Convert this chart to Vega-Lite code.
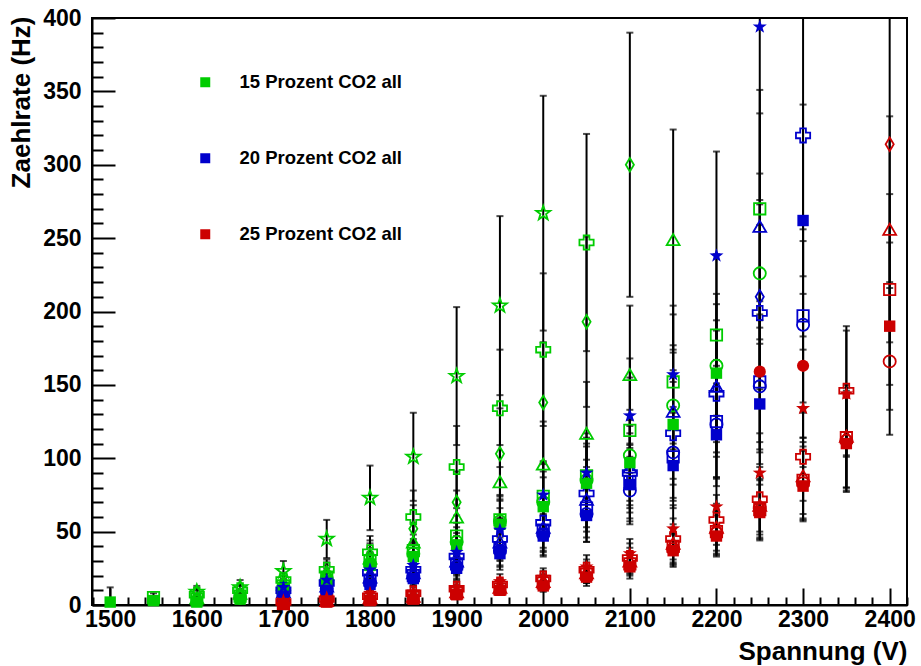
{
  "$schema": "https://vega.github.io/schema/vega-lite/v6.json",
  "width": 815,
  "height": 587,
  "autosize": {"type": "none"},
  "padding": {"left": 92, "top": 18, "right": 14, "bottom": 61},
  "background": "white",
  "config": {
    "font": "Liberation Sans",
    "view": {"stroke": "black", "strokeWidth": 2},
    "axis": {"grid": false, "domainColor": "black", "tickColor": "black", "labelColor": "black", "titleColor": "black", "labelFlush": false, "labelOverlap": false}
  },
  "data": {"values": [
    {"v":1500,"c":"15","m":"square","f":1,"r":2,"e":10},
    {"v":1550,"c":"15","m":"square","f":0,"r":5,"e":3},
    {"v":1550,"c":"15","m":"square","f":1,"r":3,"e":3},
    {"v":1600,"c":"15","m":"star","f":0,"r":9,"e":4},
    {"v":1600,"c":"15","m":"cross","f":0,"r":7,"e":3},
    {"v":1600,"c":"15","m":"triangle","f":0,"r":5,"e":2},
    {"v":1600,"c":"15","m":"square","f":0,"r":4,"e":2},
    {"v":1600,"c":"15","m":"square","f":1,"r":2,"e":2},
    {"v":1650,"c":"15","m":"star","f":0,"r":12,"e":5},
    {"v":1650,"c":"15","m":"cross","f":0,"r":10,"e":3},
    {"v":1650,"c":"15","m":"triangle","f":0,"r":8,"e":3},
    {"v":1650,"c":"15","m":"square","f":0,"r":6,"e":2},
    {"v":1650,"c":"15","m":"circle","f":0,"r":5,"e":2},
    {"v":1650,"c":"15","m":"square","f":1,"r":4,"e":2},
    {"v":1700,"c":"15","m":"star","f":0,"r":23,"e":7},
    {"v":1700,"c":"15","m":"cross","f":0,"r":17,"e":5},
    {"v":1700,"c":"15","m":"diamond","f":0,"r":15,"e":5},
    {"v":1700,"c":"15","m":"triangle","f":0,"r":14,"e":4},
    {"v":1700,"c":"15","m":"square","f":0,"r":13,"e":4},
    {"v":1700,"c":"15","m":"circle","f":0,"r":12,"e":4},
    {"v":1700,"c":"15","m":"square","f":1,"r":11,"e":3},
    {"v":1750,"c":"15","m":"star","f":0,"r":45,"e":13},
    {"v":1750,"c":"15","m":"cross","f":0,"r":24,"e":7},
    {"v":1750,"c":"15","m":"diamond","f":0,"r":22,"e":7},
    {"v":1750,"c":"15","m":"triangle","f":0,"r":21,"e":6},
    {"v":1750,"c":"15","m":"square","f":0,"r":19,"e":6},
    {"v":1750,"c":"15","m":"circle","f":0,"r":18,"e":5},
    {"v":1750,"c":"15","m":"square","f":1,"r":17,"e":5},
    {"v":1800,"c":"15","m":"star","f":0,"r":73,"e":22},
    {"v":1800,"c":"15","m":"cross","f":0,"r":36,"e":11},
    {"v":1800,"c":"15","m":"diamond","f":0,"r":34,"e":10},
    {"v":1800,"c":"15","m":"triangle","f":0,"r":32,"e":10},
    {"v":1800,"c":"15","m":"square","f":0,"r":30,"e":9},
    {"v":1800,"c":"15","m":"circle","f":0,"r":28,"e":8},
    {"v":1800,"c":"15","m":"square","f":1,"r":27,"e":8},
    {"v":1850,"c":"15","m":"star","f":0,"r":101,"e":30},
    {"v":1850,"c":"15","m":"cross","f":0,"r":60,"e":18},
    {"v":1850,"c":"15","m":"diamond","f":0,"r":52,"e":16},
    {"v":1850,"c":"15","m":"triangle","f":0,"r":43,"e":13},
    {"v":1850,"c":"15","m":"square","f":0,"r":37,"e":11},
    {"v":1850,"c":"15","m":"circle","f":0,"r":35,"e":10},
    {"v":1850,"c":"15","m":"square","f":1,"r":33,"e":10},
    {"v":1900,"c":"15","m":"star","f":0,"r":156,"e":47},
    {"v":1900,"c":"15","m":"cross","f":0,"r":94,"e":28},
    {"v":1900,"c":"15","m":"diamond","f":0,"r":70,"e":21},
    {"v":1900,"c":"15","m":"triangle","f":0,"r":60,"e":18},
    {"v":1900,"c":"15","m":"square","f":0,"r":47,"e":14},
    {"v":1900,"c":"15","m":"circle","f":0,"r":43,"e":13},
    {"v":1900,"c":"15","m":"square","f":1,"r":41,"e":12},
    {"v":1950,"c":"15","m":"star","f":0,"r":204,"e":61},
    {"v":1950,"c":"15","m":"cross","f":0,"r":134,"e":40},
    {"v":1950,"c":"15","m":"diamond","f":0,"r":103,"e":31},
    {"v":1950,"c":"15","m":"triangle","f":0,"r":84,"e":25},
    {"v":1950,"c":"15","m":"square","f":0,"r":58,"e":17},
    {"v":1950,"c":"15","m":"circle","f":0,"r":57,"e":17},
    {"v":1950,"c":"15","m":"square","f":1,"r":55,"e":16},
    {"v":2000,"c":"15","m":"star","f":0,"r":267,"e":80},
    {"v":2000,"c":"15","m":"cross","f":0,"r":174,"e":52},
    {"v":2000,"c":"15","m":"diamond","f":0,"r":138,"e":41},
    {"v":2000,"c":"15","m":"triangle","f":0,"r":96,"e":29},
    {"v":2000,"c":"15","m":"square","f":0,"r":74,"e":22},
    {"v":2000,"c":"15","m":"circle","f":0,"r":70,"e":21},
    {"v":2000,"c":"15","m":"square","f":1,"r":67,"e":20},
    {"v":2050,"c":"15","m":"cross","f":0,"r":247,"e":74},
    {"v":2050,"c":"15","m":"diamond","f":0,"r":193,"e":58},
    {"v":2050,"c":"15","m":"triangle","f":0,"r":117,"e":35},
    {"v":2050,"c":"15","m":"square","f":0,"r":88,"e":26},
    {"v":2050,"c":"15","m":"circle","f":0,"r":85,"e":25},
    {"v":2050,"c":"15","m":"square","f":1,"r":83,"e":25},
    {"v":2100,"c":"15","m":"diamond","f":0,"r":300,"e":90},
    {"v":2100,"c":"15","m":"triangle","f":0,"r":157,"e":47},
    {"v":2100,"c":"15","m":"square","f":0,"r":119,"e":36},
    {"v":2100,"c":"15","m":"circle","f":0,"r":102,"e":31},
    {"v":2100,"c":"15","m":"square","f":1,"r":97,"e":29},
    {"v":2150,"c":"15","m":"triangle","f":0,"r":249,"e":75},
    {"v":2150,"c":"15","m":"square","f":0,"r":152,"e":46},
    {"v":2150,"c":"15","m":"circle","f":0,"r":136,"e":41},
    {"v":2150,"c":"15","m":"square","f":1,"r":123,"e":37},
    {"v":2200,"c":"15","m":"square","f":0,"r":184,"e":55},
    {"v":2200,"c":"15","m":"circle","f":0,"r":163,"e":49},
    {"v":2200,"c":"15","m":"square","f":1,"r":158,"e":47},
    {"v":2250,"c":"15","m":"square","f":0,"r":270,"e":81},
    {"v":2250,"c":"15","m":"circle","f":0,"r":226,"e":68},

    {"v":1700,"c":"20","m":"star","f":1,"r":12,"e":4},
    {"v":1700,"c":"20","m":"cross","f":0,"r":10,"e":3},
    {"v":1700,"c":"20","m":"triangle","f":0,"r":9,"e":3},
    {"v":1700,"c":"20","m":"square","f":0,"r":8,"e":2},
    {"v":1700,"c":"20","m":"circle","f":0,"r":7,"e":2},
    {"v":1700,"c":"20","m":"square","f":1,"r":6,"e":2},
    {"v":1750,"c":"20","m":"star","f":1,"r":17,"e":5},
    {"v":1750,"c":"20","m":"cross","f":0,"r":15,"e":5},
    {"v":1750,"c":"20","m":"triangle","f":0,"r":13,"e":4},
    {"v":1750,"c":"20","m":"square","f":0,"r":12,"e":4},
    {"v":1750,"c":"20","m":"circle","f":0,"r":11,"e":3},
    {"v":1750,"c":"20","m":"square","f":1,"r":10,"e":3},
    {"v":1800,"c":"20","m":"star","f":1,"r":24,"e":7},
    {"v":1800,"c":"20","m":"cross","f":0,"r":22,"e":7},
    {"v":1800,"c":"20","m":"triangle","f":0,"r":19,"e":6},
    {"v":1800,"c":"20","m":"square","f":0,"r":17,"e":5},
    {"v":1800,"c":"20","m":"circle","f":0,"r":15,"e":5},
    {"v":1800,"c":"20","m":"square","f":1,"r":14,"e":4},
    {"v":1850,"c":"20","m":"star","f":1,"r":27,"e":8},
    {"v":1850,"c":"20","m":"cross","f":0,"r":24,"e":7},
    {"v":1850,"c":"20","m":"triangle","f":0,"r":22,"e":7},
    {"v":1850,"c":"20","m":"square","f":0,"r":20,"e":6},
    {"v":1850,"c":"20","m":"circle","f":0,"r":19,"e":6},
    {"v":1850,"c":"20","m":"square","f":1,"r":18,"e":5},
    {"v":1900,"c":"20","m":"star","f":1,"r":36,"e":11},
    {"v":1900,"c":"20","m":"cross","f":0,"r":33,"e":10},
    {"v":1900,"c":"20","m":"triangle","f":0,"r":30,"e":9},
    {"v":1900,"c":"20","m":"square","f":0,"r":28,"e":8},
    {"v":1900,"c":"20","m":"circle","f":0,"r":26,"e":8},
    {"v":1900,"c":"20","m":"square","f":1,"r":25,"e":8},
    {"v":1950,"c":"20","m":"star","f":1,"r":51,"e":15},
    {"v":1950,"c":"20","m":"cross","f":0,"r":45,"e":14},
    {"v":1950,"c":"20","m":"triangle","f":0,"r":43,"e":13},
    {"v":1950,"c":"20","m":"square","f":0,"r":39,"e":12},
    {"v":1950,"c":"20","m":"circle","f":0,"r":37,"e":11},
    {"v":1950,"c":"20","m":"square","f":1,"r":35,"e":11},
    {"v":2000,"c":"20","m":"star","f":1,"r":75,"e":23},
    {"v":2000,"c":"20","m":"cross","f":0,"r":56,"e":17},
    {"v":2000,"c":"20","m":"triangle","f":0,"r":53,"e":16},
    {"v":2000,"c":"20","m":"square","f":0,"r":51,"e":15},
    {"v":2000,"c":"20","m":"circle","f":0,"r":48,"e":14},
    {"v":2000,"c":"20","m":"square","f":1,"r":47,"e":14},
    {"v":2050,"c":"20","m":"star","f":1,"r":90,"e":27},
    {"v":2050,"c":"20","m":"cross","f":0,"r":76,"e":23},
    {"v":2050,"c":"20","m":"triangle","f":0,"r":72,"e":22},
    {"v":2050,"c":"20","m":"square","f":0,"r":66,"e":20},
    {"v":2050,"c":"20","m":"circle","f":0,"r":62,"e":19},
    {"v":2050,"c":"20","m":"square","f":1,"r":61,"e":18},
    {"v":2100,"c":"20","m":"star","f":1,"r":129,"e":39},
    {"v":2100,"c":"20","m":"triangle","f":0,"r":94,"e":28},
    {"v":2100,"c":"20","m":"cross","f":0,"r":90,"e":27},
    {"v":2100,"c":"20","m":"square","f":0,"r":84,"e":25},
    {"v":2100,"c":"20","m":"square","f":1,"r":82,"e":25},
    {"v":2100,"c":"20","m":"circle","f":0,"r":78,"e":23},
    {"v":2150,"c":"20","m":"star","f":1,"r":157,"e":47},
    {"v":2150,"c":"20","m":"triangle","f":0,"r":132,"e":40},
    {"v":2150,"c":"20","m":"cross","f":0,"r":117,"e":35},
    {"v":2150,"c":"20","m":"circle","f":0,"r":104,"e":31},
    {"v":2150,"c":"20","m":"square","f":0,"r":101,"e":30},
    {"v":2150,"c":"20","m":"square","f":1,"r":95,"e":29},
    {"v":2200,"c":"20","m":"star","f":1,"r":238,"e":71},
    {"v":2200,"c":"20","m":"triangle","f":0,"r":149,"e":45},
    {"v":2200,"c":"20","m":"cross","f":0,"r":144,"e":43},
    {"v":2200,"c":"20","m":"square","f":0,"r":125,"e":38},
    {"v":2200,"c":"20","m":"circle","f":0,"r":123,"e":37},
    {"v":2200,"c":"20","m":"square","f":1,"r":116,"e":35},
    {"v":2250,"c":"20","m":"star","f":1,"r":394,"e":118},
    {"v":2250,"c":"20","m":"triangle","f":0,"r":258,"e":77},
    {"v":2250,"c":"20","m":"diamond","f":0,"r":210,"e":63},
    {"v":2250,"c":"20","m":"cross","f":0,"r":199,"e":60},
    {"v":2250,"c":"20","m":"square","f":0,"r":152,"e":46},
    {"v":2250,"c":"20","m":"circle","f":0,"r":149,"e":45},
    {"v":2250,"c":"20","m":"square","f":1,"r":137,"e":41},
    {"v":2300,"c":"20","m":"cross","f":0,"r":320,"e":96},
    {"v":2300,"c":"20","m":"square","f":1,"r":262,"e":79},
    {"v":2300,"c":"20","m":"square","f":0,"r":197,"e":59},
    {"v":2300,"c":"20","m":"circle","f":0,"r":191,"e":57},

    {"v":1700,"c":"25","m":"star","f":1,"r":3,"e":2},
    {"v":1700,"c":"25","m":"cross","f":0,"r":2,"e":2},
    {"v":1700,"c":"25","m":"square","f":0,"r":1,"e":2},
    {"v":1700,"c":"25","m":"square","f":1,"r":1,"e":2},
    {"v":1750,"c":"25","m":"star","f":1,"r":5,"e":2},
    {"v":1750,"c":"25","m":"cross","f":0,"r":4,"e":2},
    {"v":1750,"c":"25","m":"triangle","f":0,"r":3,"e":2},
    {"v":1750,"c":"25","m":"square","f":0,"r":3,"e":2},
    {"v":1750,"c":"25","m":"square","f":1,"r":2,"e":2},
    {"v":1800,"c":"25","m":"star","f":1,"r":8,"e":3},
    {"v":1800,"c":"25","m":"cross","f":0,"r":6,"e":2},
    {"v":1800,"c":"25","m":"triangle","f":0,"r":5,"e":2},
    {"v":1800,"c":"25","m":"square","f":0,"r":4,"e":2},
    {"v":1800,"c":"25","m":"square","f":1,"r":3,"e":2},
    {"v":1850,"c":"25","m":"star","f":1,"r":9,"e":3},
    {"v":1850,"c":"25","m":"cross","f":0,"r":8,"e":2},
    {"v":1850,"c":"25","m":"triangle","f":0,"r":6,"e":2},
    {"v":1850,"c":"25","m":"square","f":0,"r":5,"e":2},
    {"v":1850,"c":"25","m":"square","f":1,"r":4,"e":2},
    {"v":1900,"c":"25","m":"star","f":1,"r":12,"e":4},
    {"v":1900,"c":"25","m":"cross","f":0,"r":11,"e":3},
    {"v":1900,"c":"25","m":"triangle","f":0,"r":9,"e":3},
    {"v":1900,"c":"25","m":"square","f":0,"r":8,"e":2},
    {"v":1900,"c":"25","m":"square","f":1,"r":7,"e":2},
    {"v":1950,"c":"25","m":"star","f":1,"r":16,"e":5},
    {"v":1950,"c":"25","m":"cross","f":0,"r":14,"e":4},
    {"v":1950,"c":"25","m":"triangle","f":0,"r":12,"e":4},
    {"v":1950,"c":"25","m":"square","f":0,"r":11,"e":3},
    {"v":1950,"c":"25","m":"square","f":1,"r":10,"e":3},
    {"v":2000,"c":"25","m":"star","f":1,"r":19,"e":6},
    {"v":2000,"c":"25","m":"cross","f":0,"r":18,"e":5},
    {"v":2000,"c":"25","m":"triangle","f":0,"r":16,"e":5},
    {"v":2000,"c":"25","m":"square","f":0,"r":15,"e":5},
    {"v":2000,"c":"25","m":"square","f":1,"r":13,"e":4},
    {"v":2050,"c":"25","m":"star","f":1,"r":26,"e":8},
    {"v":2050,"c":"25","m":"cross","f":0,"r":24,"e":7},
    {"v":2050,"c":"25","m":"triangle","f":0,"r":22,"e":7},
    {"v":2050,"c":"25","m":"square","f":0,"r":21,"e":6},
    {"v":2050,"c":"25","m":"square","f":1,"r":19,"e":6},
    {"v":2100,"c":"25","m":"star","f":1,"r":35,"e":10},
    {"v":2100,"c":"25","m":"cross","f":0,"r":32,"e":10},
    {"v":2100,"c":"25","m":"triangle","f":0,"r":30,"e":9},
    {"v":2100,"c":"25","m":"square","f":0,"r":28,"e":8},
    {"v":2100,"c":"25","m":"square","f":1,"r":26,"e":8},
    {"v":2150,"c":"25","m":"star","f":1,"r":52,"e":16},
    {"v":2150,"c":"25","m":"cross","f":0,"r":45,"e":14},
    {"v":2150,"c":"25","m":"triangle","f":0,"r":42,"e":13},
    {"v":2150,"c":"25","m":"square","f":0,"r":40,"e":12},
    {"v":2150,"c":"25","m":"circle","f":0,"r":38,"e":11},
    {"v":2150,"c":"25","m":"square","f":1,"r":37,"e":11},
    {"v":2200,"c":"25","m":"star","f":1,"r":67,"e":20},
    {"v":2200,"c":"25","m":"cross","f":0,"r":58,"e":17},
    {"v":2200,"c":"25","m":"triangle","f":0,"r":53,"e":16},
    {"v":2200,"c":"25","m":"square","f":0,"r":50,"e":15},
    {"v":2200,"c":"25","m":"circle","f":0,"r":49,"e":15},
    {"v":2200,"c":"25","m":"square","f":1,"r":47,"e":14},
    {"v":2250,"c":"25","m":"circle","f":1,"r":159,"e":48},
    {"v":2250,"c":"25","m":"star","f":1,"r":90,"e":27},
    {"v":2250,"c":"25","m":"cross","f":0,"r":72,"e":22},
    {"v":2250,"c":"25","m":"triangle","f":0,"r":68,"e":20},
    {"v":2250,"c":"25","m":"circle","f":0,"r":66,"e":20},
    {"v":2250,"c":"25","m":"square","f":0,"r":65,"e":20},
    {"v":2250,"c":"25","m":"square","f":1,"r":63,"e":19},
    {"v":2300,"c":"25","m":"circle","f":1,"r":163,"e":49},
    {"v":2300,"c":"25","m":"star","f":1,"r":134,"e":40},
    {"v":2300,"c":"25","m":"cross","f":0,"r":101,"e":30},
    {"v":2300,"c":"25","m":"triangle","f":0,"r":88,"e":26},
    {"v":2300,"c":"25","m":"square","f":0,"r":85,"e":26},
    {"v":2300,"c":"25","m":"circle","f":0,"r":83,"e":25},
    {"v":2300,"c":"25","m":"square","f":1,"r":81,"e":24},
    {"v":2350,"c":"25","m":"cross","f":0,"r":146,"e":44},
    {"v":2350,"c":"25","m":"star","f":1,"r":144,"e":43},
    {"v":2350,"c":"25","m":"triangle","f":0,"r":115,"e":35},
    {"v":2350,"c":"25","m":"square","f":0,"r":114,"e":34},
    {"v":2350,"c":"25","m":"circle","f":0,"r":112,"e":34},
    {"v":2350,"c":"25","m":"square","f":1,"r":110,"e":33},
    {"v":2400,"c":"25","m":"diamond","f":0,"r":314,"e":94},
    {"v":2400,"c":"25","m":"triangle","f":0,"r":256,"e":77},
    {"v":2400,"c":"25","m":"square","f":0,"r":215,"e":65},
    {"v":2400,"c":"25","m":"square","f":1,"r":190,"e":57},
    {"v":2400,"c":"25","m":"circle","f":0,"r":166,"e":50}
  ]},
  "layer": [
    {
      "mark": {"type": "errorbar", "ticks": {"size": 7, "thickness": 2, "color": "black"}, "rule": {"strokeWidth": 2, "color": "black"}, "color": "black"},
      "encoding": {
        "x": {"field": "v", "type": "quantitative",
          "scale": {"domain": [1479, 2420], "nice": false, "zero": false},
          "axis": {"orient": "bottom", "values": [1500,1600,1700,1800,1900,2000,2100,2200,2300,2400], "format": "d", "tickSize": -17, "tickWidth": 2, "domainWidth": 2,
            "labelPadding": 20, "labelFontSize": 23, "labelFontWeight": "bold",
            "title": "Spannung (V)", "titleFontSize": 26, "titleFontWeight": "bold", "titleAlign": "right", "titleAnchor": "end", "titleX": 815, "titleY": 54, "titleBaseline": "alphabetic"}},
        "y": {"field": "r", "type": "quantitative",
          "scale": {"domain": [0, 400], "nice": false, "clamp": true},
          "axis": {"orient": "left", "values": [0,50,100,150,200,250,300,350,400], "format": "d", "tickSize": -23, "tickWidth": 2, "domainWidth": 2,
            "labelPadding": 34, "labelFontSize": 23, "labelFontWeight": "bold",
            "title": "Zaehlrate (Hz)", "titleFontSize": 26, "titleFontWeight": "bold", "titleAngle": -90, "titleAlign": "right", "titleBaseline": "middle", "titleX": -71, "titleY": -2}},
        "yError": {"field": "e"}
      }
    },
    {
      "transform": [{"filter": "datum.f == 0"}],
      "mark": {"type": "point", "filled": false, "strokeWidth": 1.8, "opacity": 1},
      "encoding": {
        "x": {"field": "v", "type": "quantitative",
          "axis": {"orient": "bottom", "values": [1480,1520,1540,1560,1580,1620,1640,1660,1680,1720,1740,1760,1780,1820,1840,1860,1880,1920,1940,1960,1980,2020,2040,2060,2080,2120,2140,2160,2180,2220,2240,2260,2280,2320,2340,2360,2380,2420],
            "tickSize": -8, "tickWidth": 2, "labels": false, "domain": false, "title": null}},
        "y": {"field": "r", "type": "quantitative",
          "axis": {"orient": "left", "values": [10,20,30,40,60,70,80,90,110,120,130,140,160,170,180,190,210,220,230,240,260,270,280,290,310,320,330,340,360,370,380,390],
            "tickSize": -11, "tickWidth": 2, "labels": false, "domain": false, "title": null}},
        "color": {"field": "c", "type": "nominal", "scale": {"domain": ["15","20","25"], "range": ["#00cc00","#0000cc","#cc0000"]}, "legend": null},
        "shape": {"field": "m", "type": "nominal", "scale": {"domain": ["star","cross","diamond","triangle","circle","square"], "range": ["M0,-1L0.235,-0.324L0.951,-0.309L0.38,0.124L0.588,0.809L0,0.4L-0.588,0.809L-0.38,0.124L-0.951,-0.309L-0.235,-0.324Z","cross","M0,-1L0.6,0L0,1L-0.6,0Z","triangle-up","circle","square"]}, "legend": null},
        "size": {"field": "m", "type": "nominal", "scale": {"domain": ["star","cross","diamond","triangle","circle","square"], "range": [220,130,150,120,110,110]}, "legend": null}
      }
    },
    {
      "transform": [{"filter": "datum.f == 1"}],
      "mark": {"type": "point", "filled": true, "opacity": 1},
      "encoding": {
        "x": {"field": "v", "type": "quantitative", "axis": null},
        "y": {"field": "r", "type": "quantitative", "axis": null},
        "color": {"field": "c", "type": "nominal", "scale": {"domain": ["15","20","25"], "range": ["#00cc00","#0000cc","#cc0000"]},
          "legend": {"orient": "none", "legendX": 104, "legendY": 55, "title": null, "symbolType": "square", "symbolSize": 100, "symbolStrokeWidth": 0,
            "labelFontSize": 18.5, "labelFontWeight": "bold", "labelColor": "black", "labelOffset": 25, "labelLimit": 0, "rowPadding": 57,
            "labelExpr": "datum.label + ' Prozent CO2 all'"}},
        "shape": {"field": "m", "type": "nominal", "scale": {"domain": ["star","cross","diamond","triangle","circle","square"], "range": ["M0,-1L0.235,-0.324L0.951,-0.309L0.38,0.124L0.588,0.809L0,0.4L-0.588,0.809L-0.38,0.124L-0.951,-0.309L-0.235,-0.324Z","cross","M0,-1L0.6,0L0,1L-0.6,0Z","triangle-up","circle","square"]}, "legend": null},
        "size": {"field": "m", "type": "nominal", "scale": {"domain": ["star","cross","diamond","triangle","circle","square"], "range": [220,130,150,120,110,110]}, "legend": null}
      }
    }
  ],
  "resolve": {"axis": {"x": "independent", "y": "independent"}, "legend": {"color": "independent"}}
}
